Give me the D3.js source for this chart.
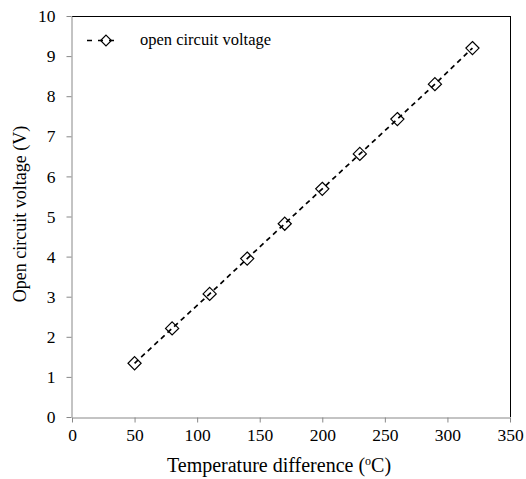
<!DOCTYPE html>
<html><head><meta charset="utf-8">
<script src="https://cdn.jsdelivr.net/npm/d3@7"></script>
<style>body{margin:0;background:#fff}svg{display:block}svg text{font-family:"Liberation Serif","Times New Roman",serif !important}</style>
</head><body>
<svg id="c" width="526" height="479"></svg>
<script>
const tempDiff = [50, 80, 110, 140, 170, 200, 230, 260, 290, 320];
const voltage = [1.34, 2.21, 3.07, 3.95, 4.82, 5.69, 6.56, 7.43, 8.30, 9.20];
const xTicks = [0, 50, 100, 150, 200, 250, 300, 350];
const yTicks = [0, 1, 2, 3, 4, 5, 6, 7, 8, 9, 10];
const seriesName = "open circuit voltage";

const svg = d3.select("#c");
const L = 72, R = 510, T = 16, B = 417;
const x = d3.scaleLinear().domain([0, 350]).range([L, R]);
const y = d3.scaleLinear().domain([0, 10]).range([B, T]);

svg.append("line").attr("x1", L).attr("x2", R).attr("y1", T + 0.5).attr("y2", T + 0.5).attr("stroke", "#000");
svg.append("line").attr("x1", R + 0.5).attr("x2", R + 0.5).attr("y1", T).attr("y2", B).attr("stroke", "#000");

const xa = svg.append("g").attr("transform", `translate(0,${B + 0.5})`)
  .call(d3.axisBottom(x).tickValues(xTicks).tickSize(5).tickSizeOuter(0).tickPadding(6));
const ya = svg.append("g").attr("transform", `translate(${L - 0.5},0)`)
  .call(d3.axisLeft(y).tickValues(yTicks).tickSize(5).tickSizeOuter(0).tickPadding(11));
[xa, ya].forEach(a => {
  a.attr("font-family", null).attr("font-size", null);
  a.select(".domain").attr("stroke", "#888");
  a.selectAll(".tick line").attr("stroke", "#888");
  a.selectAll(".tick text").attr("fill", "#000").style("font-size", "17.5px");
});

const pts = tempDiff.map((d, i) => [d, voltage[i]]);
svg.append("path").datum(pts)
  .attr("d", d3.line().x(d => x(d[0])).y(d => y(d[1])))
  .attr("fill", "none").attr("stroke", "#000").attr("stroke-width", 1.7).attr("stroke-dasharray", "5,4");

const diamond = d3.symbol().type(d3.symbolDiamond2).size(110);
svg.selectAll(".m").data(pts).join("path")
  .attr("transform", d => `translate(${x(d[0])},${y(d[1])})`)
  .attr("d", diamond).attr("fill", "none").attr("stroke", "#000").attr("stroke-width", 1.2);

// legend
const lg = svg.append("g");
lg.append("line").attr("x1", 87).attr("x2", 119).attr("y1", 40.5).attr("y2", 40.5)
  .attr("stroke", "#000").attr("stroke-width", 1.7).attr("stroke-dasharray", "5,6");
lg.append("path").attr("transform", "translate(106,40.5)").attr("d", d3.symbol().type(d3.symbolDiamond2).size(75))
  .attr("fill", "none").attr("stroke", "#000").attr("stroke-width", 1.2);
lg.append("text").attr("x", 140).attr("y", 45).style("font-size", "16.5px").text(seriesName);

// axis titles
const xt = svg.append("text").attr("x", 279).attr("y", 472).attr("text-anchor", "middle").style("font-size", "20px");
xt.append("tspan").text("Temperature difference (");
xt.append("tspan").style("font-size", "12px").attr("dy", -7).text("o");
xt.append("tspan").attr("dy", 7).text("C)");

svg.append("text").attr("transform", "translate(26,214) rotate(-90)").attr("text-anchor", "middle")
  .style("font-size", "18px").text("Open circuit voltage (V)");
</script>
</body></html>
